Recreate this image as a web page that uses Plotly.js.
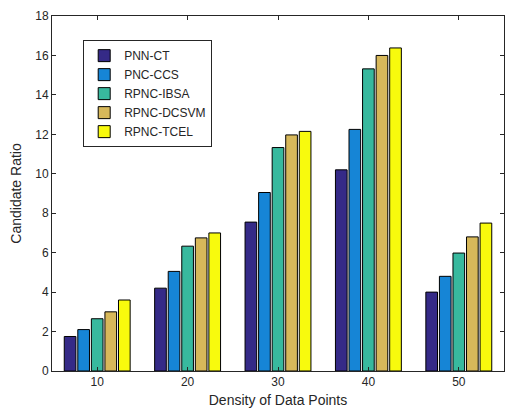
<!DOCTYPE html>
<html>
<head>
<meta charset="utf-8">
<script src="https://cdn.plot.ly/plotly-3.0.1.min.js"></script>
<style>html,body{margin:0;padding:0;background:#fff;}#chart{width:506px;height:415px;}</style>
</head>
<body>
<div id="chart"></div>
<script>
const categories = ["10", "20", "30", "40", "50"];
const seriesNames = ["PNN-CT", "PNC-CCS", "RPNC-IBSA", "RPNC-DCSVM", "RPNC-TCEL"];
const pnnCT = [1.75, 4.2, 7.55, 10.2, 4.0];
const pncCCS = [2.1, 5.05, 9.05, 12.25, 4.8];
const rpncIBSA = [2.65, 6.33, 11.33, 15.32, 5.98];
const rpncDCSVM = [3.0, 6.75, 11.97, 16.0, 6.8];
const rpncTCEL = [3.6, 7.0, 12.15, 16.38, 7.5];
const yTicks = [0, 2, 4, 6, 8, 10, 12, 14, 16, 18];

const seriesValues = [pnnCT, pncCCS, rpncIBSA, rpncDCSVM, rpncTCEL];
const colors = ["#352a87", "#1685d6", "#38b99e", "#d7b85a", "#f8fa0d"];

const traces = seriesNames.map((name, i) => ({
  type: "bar",
  name: name,
  x: categories,
  y: seriesValues[i],
  marker: {color: colors[i], line: {color: "#000", width: 1}}
}));

const font = {family: "Liberation Sans, Arial, sans-serif", color: "#262626"};
const layout = {
  width: 506, height: 415,
  margin: {l: 52, r: 2, t: 16, b: 44},
  paper_bgcolor: "#fff", plot_bgcolor: "#fff",
  font: Object.assign({size: 12}, font),
  barmode: "group",
  bargap: 0.25,
  bargroupgap: 0.14,
  showlegend: true,
  legend: {
    x: 0.069, y: 0.932, xanchor: "left", yanchor: "top",
    bordercolor: "#262626", borderwidth: 1, bgcolor: "#fff",
    font: Object.assign({size: 12}, font),
    tracegroupgap: 0, itemwidth: 30
  },
  xaxis: {
    type: "category",
    range: [-0.5, 4.5],
    showline: true, linecolor: "#262626", linewidth: 1, mirror: "ticks",
    ticks: "inside", ticklen: 4, tickcolor: "#262626",
    showgrid: false, zeroline: false,
    tickfont: Object.assign({size: 12}, font),
    title: {text: "Density of Data Points", font: Object.assign({size: 14}, font), standoff: 6}
  },
  yaxis: {
    range: [0, 18],
    tickvals: yTicks,
    showline: true, linecolor: "#262626", linewidth: 1, mirror: "ticks",
    ticks: "inside", ticklen: 4, tickcolor: "#262626",
    showgrid: false, zeroline: false,
    tickfont: Object.assign({size: 12}, font),
    title: {text: "Candidate Ratio", font: Object.assign({size: 14}, font), standoff: 10}
  }
};

Plotly.newPlot("chart", traces, layout, {displayModeBar: false, staticPlot: true});
</script>
</body>
</html>
